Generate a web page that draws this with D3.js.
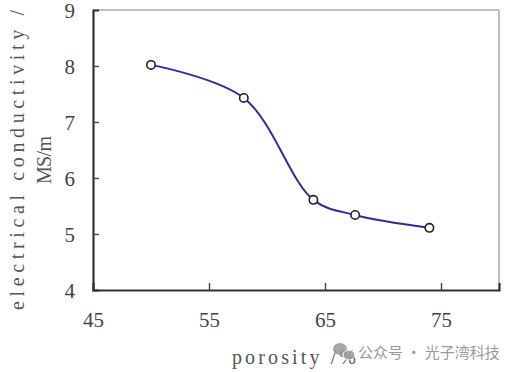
<!DOCTYPE html>
<html><head><meta charset="utf-8">
<script src="https://cdn.jsdelivr.net/npm/d3@7"></script>
<style>body{margin:0;background:#fff}</style>
</head><body>
<svg id="c" width="505" height="372"></svg>
<script>
const porosity = [50, 58, 64, 67.6, 74];
const conductivity = [8.02, 7.43, 5.61, 5.34, 5.11];
const xTicks = [45, 55, 65, 75];
const yTicks = [4, 5, 6, 7, 8, 9];

const svg = d3.select("#c");
const L = 93, R = 499, T = 10, B = 290;
const x = d3.scaleLinear().domain([45, 80]).range([L, R]);
const y = d3.scaleLinear().domain([4, 9]).range([B, T]);

// frame top/right (light)
svg.append("line").attr("x1", L).attr("x2", R).attr("y1", T).attr("y2", T)
  .attr("stroke", "#aaa").attr("stroke-width", 1.5);
svg.append("line").attr("x1", R).attr("x2", R).attr("y1", T).attr("y2", B)
  .attr("stroke", "#aaa").attr("stroke-width", 1.5);

// axes
const fontNum = "'Liberation Serif', 'DejaVu Serif', serif";
const gx = svg.append("g").attr("transform", `translate(0,${B})`)
  .call(d3.axisBottom(x).tickValues(xTicks).tickSize(-7).tickPadding(22).tickFormat(d3.format("d")));
const gy = svg.append("g").attr("transform", `translate(${L},0)`)
  .call(d3.axisLeft(y).tickValues(yTicks).tickSize(-6).tickPadding(18).tickFormat(d3.format("d")));
[gx, gy].forEach(g => {
  g.select(".domain").attr("stroke", "#333").attr("stroke-width", 2.2);
  g.selectAll(".tick line").attr("stroke", "#444").attr("stroke-width", 1.4);
  g.selectAll(".tick text").attr("font-family", fontNum).attr("font-size", 21).attr("fill", "#444");
});
gx.selectAll(".tick").filter(d => d === 45).select("line").remove();
gy.selectAll(".tick").filter(d => d === 4 || d === 9).select("line").remove();
gy.selectAll(".tick text").attr("dy", "0.36em");

// line
const pts = porosity.map((p, i) => [p, conductivity[i]]);
const line = d3.line().x(d => x(d[0])).y(d => y(d[1])).curve(d3.curveCatmullRom.alpha(0.5));
svg.append("path").attr("d", line(pts)).attr("fill", "none")
  .attr("stroke", "#2e2e8e").attr("stroke-width", 2);
svg.selectAll("circle.m").data(pts).enter().append("circle").attr("class", "m")
  .attr("cx", d => x(d[0])).attr("cy", d => y(d[1])).attr("r", 4.2)
  .attr("fill", "#fff").attr("stroke", "#222").attr("stroke-width", 1.6);

// labels
const fontLab = "'Liberation Serif', 'DejaVu Serif', serif";
const yl = svg.append("text").attr("transform", "translate(24,160) rotate(-90)")
  .attr("text-anchor", "middle").attr("font-family", fontLab).attr("font-size", 20).attr("fill", "#555");
yl.append("tspan").attr("x", 0).attr("dy", 0).attr("textLength", 300).attr("lengthAdjust", "spacing")
  .text("electrical conductivity /");
yl.append("tspan").attr("x", 0).attr("dy", 27).attr("textLength", 48).attr("lengthAdjust", "spacing").text("MS/m");

svg.append("text").attr("x", 232).attr("y", 364).attr("font-family", fontLab)
  .attr("font-size", 20).attr("fill", "#555").attr("textLength", 124).attr("lengthAdjust", "spacing")
  .text("porosity /%");

// watermark
const wm = svg.append("g").attr("fill", "#999").attr("opacity", 0.85);
wm.append("ellipse").attr("cx", 340).attr("cy", 349).attr("rx", 7).attr("ry", 6);
wm.append("ellipse").attr("cx", 349).attr("cy", 355).attr("rx", 6).attr("ry", 5).attr("stroke", "#fff").attr("stroke-width", 1);
svg.append("text").attr("x", 358).attr("y", 358).attr("font-family", "'Noto Sans CJK SC', sans-serif")
  .attr("font-size", 15).attr("fill", "#999").text("公众号 · 光子湾科技");
</script>
</body></html>
